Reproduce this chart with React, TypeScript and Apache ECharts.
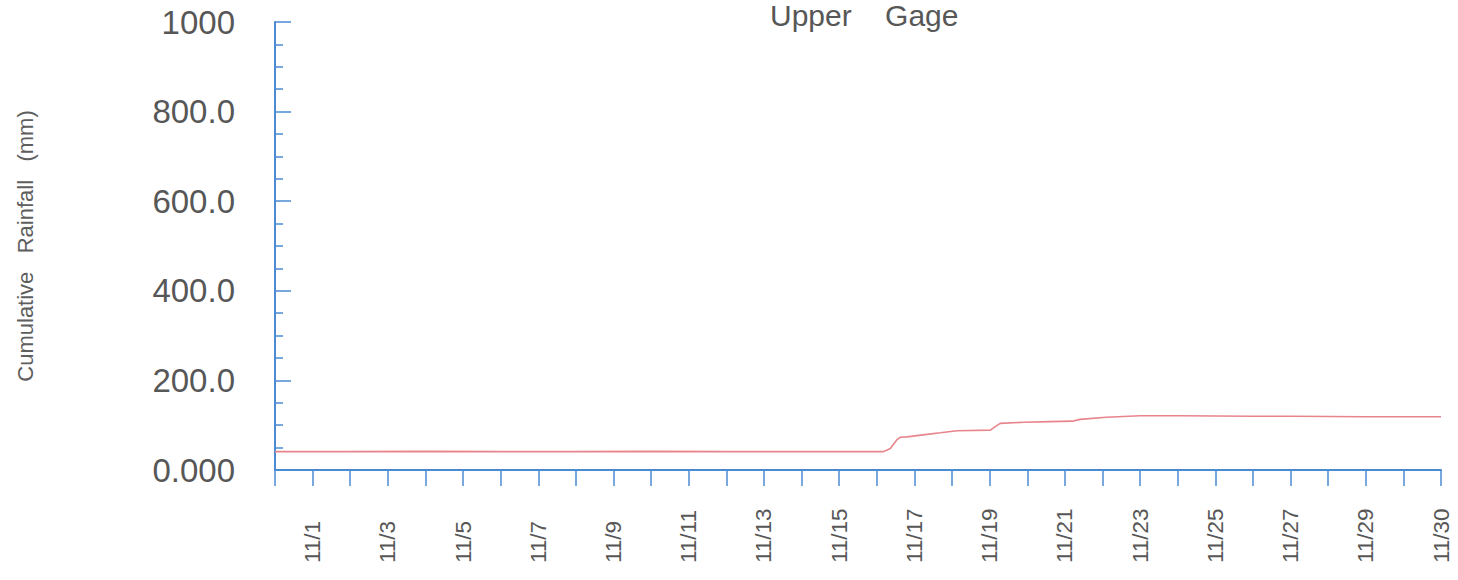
import React, { useEffect, useRef } from "react";
import * as echarts from "echarts";

const titleText = "Upper    Gage";
const yAxisName = "Cumulative   Rainfall   (mm)";

// x position in days: 0 = axis start (day before 11/1), 1 = 11/1, ..., 31 = end (labelled 11/30)
const dayPos = [
  0, 2, 4, 6, 8, 10, 12, 14, 16, 16.18, 16.36, 16.53, 16.62, 16.8, 17.33, 17.69,
  18.13, 19.02, 19.15, 19.28, 19.9, 20.6, 21.2, 21.4, 22.1, 23, 24, 25, 26, 27,
  28, 29, 30, 31,
];
const rainfall = [
  41, 41, 41.5, 41, 41, 41.5, 41, 41, 41, 41, 48, 67, 73, 74, 79.5, 83,
  87.7, 89, 96.7, 104, 106.5, 108, 109, 113, 117.6, 121, 121, 120.5, 120, 120,
  119.5, 119, 119, 119,
];

const xTickValues = [1, 3, 5, 7, 9, 11, 13, 15, 17, 19, 21, 23, 25, 27, 29, 31];
const xTickLabels = [
  "11/1", "11/3", "11/5", "11/7", "11/9", "11/11", "11/13", "11/15",
  "11/17", "11/19", "11/21", "11/23", "11/25", "11/27", "11/29", "11/30",
];
const yTickValues = [0, 200, 400, 600, 800, 1000];
const yTickLabels = ["0.000", "200.0", "400.0", "600.0", "800.0", "1000"];

const AXIS_BLUE = "#4a8bd2";
const LINE_RED = "#e8848c";
const TEXT_GRAY = "#575757";
const FONT = "'Liberation Sans', Arial, sans-serif";

export default function App() {
  const ref = useRef<HTMLDivElement>(null);

  useEffect(() => {
    document.body.style.margin = "0";
    const chart = echarts.init(ref.current!, null, { renderer: "svg" });
    chart.setOption({
      animation: false,
      backgroundColor: "#ffffff",
      title: {
        text: titleText,
        left: 770,
        top: 0,
        padding: 0,
        textStyle: {
          fontFamily: FONT,
          fontSize: 30,
          fontWeight: "normal",
          color: TEXT_GRAY,
        },
      },
      grid: { left: 275, right: 17, top: 22, bottom: 110, containLabel: false },
      xAxis: {
        type: "value",
        min: 0,
        max: 31,
        interval: 1,
        splitLine: { show: false },
        axisLine: { show: true, lineStyle: { color: AXIS_BLUE, width: 2 } },
        axisTick: {
          show: true,
          inside: false,
          length: 16,
          lineStyle: { color: AXIS_BLUE, width: 1.5 },
        },
        axisLabel: {
          show: true,
          rotate: 90,
          align: "left",
          margin: 93,
          fontFamily: FONT,
          fontSize: 22.5,
          color: TEXT_GRAY,
          showMinLabel: true,
          showMaxLabel: true,
          formatter: (v: number) => {
            const i = xTickValues.indexOf(Math.round(v));
            return i >= 0 ? xTickLabels[i] : "";
          },
        },
      },
      yAxis: {
        type: "value",
        min: 0,
        max: 1000,
        interval: 200,
        name: yAxisName,
        nameLocation: "middle",
        nameGap: 239,
        nameTextStyle: {
          fontFamily: FONT,
          fontSize: 22,
          color: "#5e5e5e",
        },
        splitLine: { show: false },
        axisLine: { show: true, lineStyle: { color: AXIS_BLUE, width: 2 } },
        axisTick: {
          show: true,
          inside: true,
          length: 16,
          lineStyle: { color: AXIS_BLUE, width: 1.5 },
        },
        minorTick: {
          show: true,
          splitNumber: 4,
          length: 8,
          lineStyle: { color: AXIS_BLUE, width: 1.5 },
        },
        axisLabel: {
          show: true,
          margin: 40,
          fontFamily: FONT,
          fontSize: 33,
          color: TEXT_GRAY,
          formatter: (v: number) => {
            const i = yTickValues.indexOf(Math.round(v));
            return i >= 0 ? yTickLabels[i] : "";
          },
        },
      },
      series: [
        {
          type: "line",
          name: "Upper Gage",
          data: dayPos.map((d, i) => [d, rainfall[i]]),
          showSymbol: false,
          symbol: "none",
          lineStyle: { color: LINE_RED, width: 1.6 },
          itemStyle: { color: LINE_RED },
        },
      ],
    });
    return () => chart.dispose();
  }, []);

  return <div ref={ref} style={{ width: 1458, height: 580 }} />;
}
